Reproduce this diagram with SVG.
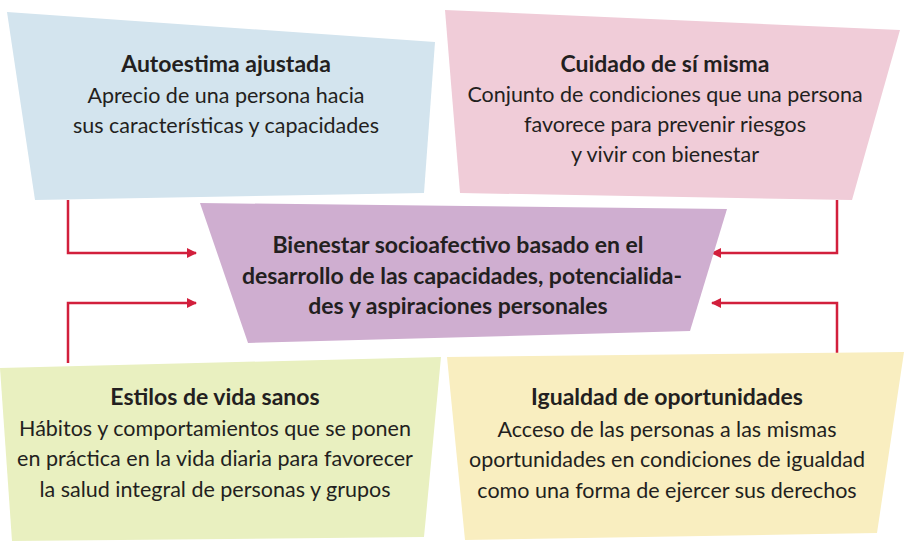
<svg xmlns="http://www.w3.org/2000/svg" width="906" height="541" viewBox="0 0 906 541">
<defs>
<style>
.t{font-family:Lato,"Open Sans","Liberation Sans",sans-serif;font-size:21.5px;fill:#231f20;text-anchor:middle}
.b{font-weight:bold;font-size:23px}
.c{fill:none;stroke:#d21f3c;stroke-width:2.5}
</style>
<marker id="ah" viewBox="0 0 10 10" refX="9" refY="5" markerWidth="10" markerHeight="10" markerUnits="userSpaceOnUse" orient="auto">
<path d="M0,0 L10,5 L0,10 z" fill="#d21f3c"/>
</marker>
</defs>
<rect width="906" height="541" fill="#ffffff"/>
<g id="connectors">
<path class="c" d="M68,200 V253 H196" marker-end="url(#ah)"/>
<path class="c" d="M68,363 V303 H196" marker-end="url(#ah)"/>
<path class="c" d="M837,200 V253 H712" marker-end="url(#ah)"/>
<path class="c" d="M837,355 V303 H712" marker-end="url(#ah)"/>
</g>
<g id="autoestima">
<polygon points="7,12 435,42 424,193 35,200" fill="#d3e4ee"/>
<text class="t b" x="226" y="72">Autoestima ajustada</text>
<text class="t" x="226" y="103">Aprecio de una persona hacia</text>
<text class="t" x="226" y="133">sus características y capacidades</text>
</g>
<g id="cuidado">
<polygon points="445,10 900,30 852,200 460,193" fill="#f0ccd8"/>
<text class="t b" x="665" y="72">Cuidado de sí misma</text>
<text class="t" x="665" y="102">Conjunto de condiciones que una persona</text>
<text class="t" x="665" y="132">favorece para prevenir riesgos</text>
<text class="t" x="665" y="162">y vivir con bienestar</text>
</g>
<g id="bienestar">
<polygon points="200,203 727,209 690,331 248,343" fill="#cfaed0"/>
<text class="t b" x="458" y="253">Bienestar socioafectivo basado en el</text>
<text class="t b" x="462" y="284">desarrollo de las capacidades, potencialida-</text>
<text class="t b" x="458" y="314">des y aspiraciones personales</text>
</g>
<g id="estilos">
<polygon points="0,368 441,357 424,537 12,541" fill="#e9f0c0"/>
<text class="t b" x="215" y="405">Estilos de vida sanos</text>
<text class="t" x="215" y="436">Hábitos y comportamientos que se ponen</text>
<text class="t" x="215" y="466">en práctica en la vida diaria para favorecer</text>
<text class="t" x="215" y="497">la salud integral de personas y grupos</text>
</g>
<g id="igualdad">
<polygon points="447,357 904,352 877,533 465,540" fill="#f9eec0"/>
<text class="t b" x="667" y="405">Igualdad de oportunidades</text>
<text class="t" x="667" y="437">Acceso de las personas a las mismas</text>
<text class="t" x="667" y="467">oportunidades en condiciones de igualdad</text>
<text class="t" x="667" y="498">como una forma de ejercer sus derechos</text>
</g>
</svg>
